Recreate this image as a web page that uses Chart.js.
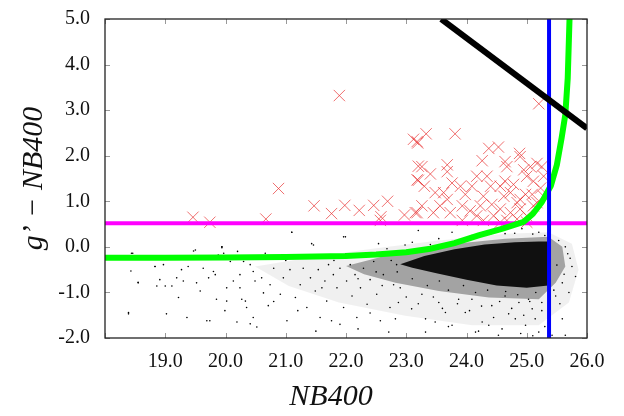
<!DOCTYPE html>
<html lang="en">
<head>
<meta charset="UTF-8">
<title>g' - NB400 vs NB400</title>
<script src="https://cdn.jsdelivr.net/npm/chart.js@4"></script>
<style>
  html, body { margin: 0; padding: 0; background: #fff; }
  #wrap { width: 624px; height: 416px; }
</style>
</head>
<body>
<div id="wrap"><canvas id="cmd"></canvas></div>
<script>
// axis ranges
const xRange = [18, 26];
const yRange = [-2, 5];

// selection lines
const colorCut = 0.52;      // magenta
const magLimit = 25.37;     // blue
const blackLine = [[23.58, 5.0], [26.0, 2.6]];

// green error curve
const greenCurve = [[18,-0.24],[19,-0.24],[20,-0.235],[21,-0.225],[21.5,-0.21],[22,-0.2],[22.5,-0.17],
  [23,-0.12],[23.4,-0.04],[23.8,0.08],[24.2,0.25],[24.6,0.4],[24.95,0.55],[25.1,0.72],[25.25,0.98],
  [25.4,1.34],[25.5,1.8],[25.58,2.4],[25.64,2.9],[25.68,3.7],[25.71,5.0]];

// LAE candidates (red crosses)
const candidates = [[19.46,0.65],[19.74,0.54],[20.67,0.61],[20.88,1.28],[21.89,3.32],[21.47,0.90],
  [21.76,0.73],[21.98,0.91],[22.22,0.80],[22.46,0.91],[22.69,1.0],[22.58,0.66],[22.57,0.58],[22.97,0.70],
  [23.12,2.36],[23.18,2.31],[23.2,1.77],[23.18,1.47],[23.18,0.75],[23.33,2.48],[23.81,2.48],[23.19,2.28],
  [24.37,2.16],[24.53,2.19],[24.88,2.05],[24.89,1.98],[24.26,1.89],[24.64,1.87],[24.67,1.76],[23.26,1.76],
  [23.40,1.60],[23.68,1.80],[23.68,1.65],[23.2,1.46],[23.30,1.33],[23.48,1.19],[23.62,1.19],[23.68,1.04],
  [23.26,0.90],[23.15,0.75],[23.9,1.33],[23.98,1.15],[23.93,0.90],[23.93,0.58],[24.09,1.33],[24.17,1.55],
  [24.34,1.55],[24.40,1.33],[24.56,1.33],[24.64,1.44],[24.78,1.37],[24.95,1.69],[25.06,1.76],[25.17,1.83],
  [25.25,1.76],[25.28,1.55],[25.11,1.44],[25.0,1.55],[25.23,1.29],[25.28,1.11],[24.89,1.04],[24.84,0.97],
  [24.73,1.19],[24.62,1.11],[24.28,1.11],[24.23,0.90],[24.42,0.93],[24.56,0.83],[24.45,0.68],[24.17,0.68],
  [24.06,0.79],[24.73,0.75],[24.89,0.83],[25.0,0.68],[25.11,0.90],[25.17,0.97],[24.84,0.61],[24.67,0.58],
  [24.28,0.58],[23.73,0.75],[23.56,0.90],[23.45,0.75],[23.76,1.40],[24.98,1.15],[25.09,1.15],[24.56,0.54],
  [25.0,0.54],[25.2,3.14]];

// all other sources: density outlines of the crowded part...
const cloudOuter = [[20.49,-0.43],[21.32,-0.25],[22.43,-0.04],[23.54,0.14],[24.64,0.29],[25.36,0.32],
  [25.75,0.07],[25.86,-0.5],[25.7,-1.22],[25.2,-1.72],[24.09,-1.72],[22.98,-1.51],[21.88,-1.22],[21.05,-0.86],[20.49,-0.43]];
const cloudMid = [[22.0,-0.42],[22.5,-0.25],[22.98,-0.07],[23.81,0.07],[24.64,0.18],[25.36,0.22],[25.59,0.0],
  [25.64,-0.43],[25.48,-0.79],[25.2,-1.15],[24.37,-1.11],[23.54,-0.97],[22.82,-0.79],[22.3,-0.6],[22.0,-0.42]];
const cloudCore = [[22.9,-0.38],[23.3,-0.2],[23.8,-0.05],[24.3,0.05],[24.8,0.1],[25.2,0.12],[25.36,0.12],
  [25.36,-0.85],[25.0,-0.9],[24.5,-0.85],[24.0,-0.72],[23.5,-0.58],[23.1,-0.46],[22.9,-0.38]];

// ...and the scattered single sources
const sources = [[18.46,-0.14],[18.43,-0.53],[18.55,-0.78],[18.39,-1.47],[18.83,-0.43],[18.91,-0.72],
  [18.86,-0.86],[18.97,-0.39],[19.02,-1.47],[19.11,-0.86],[19.22,-1.11],[19.19,-0.68],[19.27,-0.50],
  [19.30,-0.75],[19.38,-0.43],[19.47,-0.09],[19.36,-1.55],[19.52,-0.79],[19.58,-0.97],[19.63,-0.47],
  [19.69,-1.62],[19.72,-0.68],[19.80,-0.54],[19.85,-1.15],[19.88,-0.18],[19.94,-0.02],[19.97,-0.14],
  [19.99,-1.40],[20.02,-0.90],[20.08,-0.32],[20.13,-0.75],[20.19,-1.65],[20.24,-0.61],[20.27,-1.15],
  [20.30,-0.32],[20.35,-1.33],[20.41,-1.69],[20.46,-0.54],[20.49,-0.75],[20.52,-1.76],
  [19.74,-1.62],[19.94,0.0],[19.83,-0.61],[20.02,-1.19],[20.24,-0.90],[20.33,-1.19],[20.41,-0.39],
  [20.46,-1.55],[20.60,-0.68],[20.63,-1.01],[20.71,-1.29],[20.74,-0.83],[20.80,-0.47],[20.91,-1.04],
  [20.96,-0.68],[21.02,-1.62],[21.07,-0.50],[21.10,0.32],[21.16,-1.11],[21.24,-0.83],[21.29,-0.47],
  [21.35,-1.33],[21.41,-0.68],[21.46,0.04],[21.49,-0.97],[21.54,-0.50],[21.57,-1.55],[21.65,-0.75],
  [21.68,-1.19],[21.71,-0.39],[21.76,-1.62],[21.79,-0.61],[21.85,-0.90],[21.90,-0.47],[21.96,0.22],
  [21.96,-1.33],[22.01,-0.75],[22.07,-0.39],[22.10,-1.08],[22.15,-0.61],[22.18,-1.55],[22.24,-0.90],
  [22.29,-0.47],[22.35,-1.26],[22.40,-0.72],[22.46,-0.32],[22.51,-1.04],[22.57,-1.62],[22.62,-0.61],
  [22.68,-0.04],[22.73,-1.33],[22.79,-0.83],[22.84,-0.39],
  [23.09,-1.36],[23.32,-1.58],[23.54,-1.22],[23.76,-1.72],[23.98,-1.44],[24.09,-1.15],[24.26,-1.65],
  [24.42,-1.29],[24.59,-1.80],[24.70,-1.47],[24.87,-1.22],[24.98,-1.72],[25.09,-1.36],[25.20,-1.87],
  [25.25,-1.22],[25.48,-1.08],[25.59,-1.58],[25.70,-1.00],[25.75,-0.43],[25.81,-0.65],[25.64,0.0],
  [25.72,-0.25],[25.53,0.14],[25.59,-0.79],[25.42,-1.94],[25.64,-1.94],[23.26,-1.04],[22.87,-1.22],
  [22.82,-1.58],[23.48,-1.65],[23.87,-1.15],[24.37,-1.72],[24.81,-1.58],[25.03,-1.15],[23.65,-1.44],
  [24.64,-1.08],[24.15,-1.87],[25.14,-1.58],[24.53,-1.94],[23.32,-1.87],[22.71,-1.87],
  [21.99,0.22],[22.54,0.07],[22.98,0.04],[23.54,0.18],[24.09,0.25],[24.64,0.29],[25.2,0.32],[23.2,0.36],
  [23.76,0.32],[24.92,0.40],[21.1,0.32],[21.43,0.07],[20.66,-0.14],[19.50,-0.07],[19.94,0.0],[18.44,-0.14],
  [18.55,-0.79],[18.39,-1.44],[19.0,-0.86],[18.83,-0.43],
  [22.9,-0.9],[23.0,-1.1],[23.1,-0.7],[23.2,-1.25],[23.35,-0.85],[23.45,-1.1],[23.55,-0.75],[23.6,-1.35],
  [23.7,-0.95],[23.85,-1.25],[23.95,-0.85],[24.05,-1.4],[24.15,-1.0],[24.25,-1.3],[24.35,-0.95],[24.45,-1.55],
  [24.55,-1.2],[24.65,-0.98],[24.75,-1.35],[24.85,-1.05],[24.95,-1.5],[25.05,-1.2],[25.15,-1.0],[25.25,-1.4],
  [25.3,-1.75],[25.45,-0.95],[25.5,-0.4],[25.55,-1.25],[25.62,-0.6],[25.68,-0.15],[22.3,-0.2],[22.5,-0.55],
  [22.6,-0.85],[22.75,-0.3],[22.85,-0.55],[22.2,-0.7],[22.0,-0.15],[21.8,-0.3],[21.6,-0.9],[21.3,-0.2],
  [21.0,-0.3],[20.8,-1.2],[20.55,-0.25],[20.2,-0.1],[23.1,0.1],[23.4,0.05],[24.0,0.2],[24.4,0.28],
  [24.8,0.3],[25.1,0.28],[25.3,0.25],[23.7,-1.75],[24.2,-1.85],[24.9,-1.9],[25.1,-1.95],[22.4,-1.45],
  [22.2,-1.8],[21.9,-1.7],[21.5,-1.85],[21.2,-1.4]];

const toXY = arr => arr.map(p => ({ x: p[0], y: p[1] }));
const serif = '"Liberation Serif", "Times New Roman", "DejaVu Serif", serif';

function cloud(pts, shade) {
  return {
    data: toXY(pts), showLine: true, fill: 'shape', borderWidth: 0,
    borderColor: 'rgba(0,0,0,0)', backgroundColor: 'rgba(0,0,0,' + shade + ')',
    pointRadius: 0, order: 10
  };
}
function straight(pts, color, width, order) {
  return {
    data: toXY(pts), showLine: true, borderColor: color, borderWidth: width,
    pointRadius: 0, fill: false, order: order
  };
}

// frame and inward tick marks like the original plot
const framePlugin = {
  id: 'frame',
  afterDatasetsDraw(chart) {
    const { ctx, chartArea: a, scales: { x, y } } = chart;
    ctx.save();
    ctx.strokeStyle = '#999';
    ctx.lineWidth = 1;
    ctx.beginPath();
    x.ticks.forEach(t => {
      const px = Math.round(x.getPixelForValue(t.value)) + 0.5;
      ctx.moveTo(px, a.bottom); ctx.lineTo(px, a.bottom - 5);
      ctx.moveTo(px, a.top); ctx.lineTo(px, a.top + 5);
    });
    y.ticks.forEach(t => {
      const py = Math.round(y.getPixelForValue(t.value)) + 0.5;
      ctx.moveTo(a.left, py); ctx.lineTo(a.left + 5, py);
      ctx.moveTo(a.right, py); ctx.lineTo(a.right - 5, py);
    });
    ctx.stroke();
    ctx.strokeStyle = '#222';
    ctx.lineWidth = 1.3;
    ctx.strokeRect(a.left, a.top, a.right - a.left, a.bottom - a.top);
    ctx.restore();
  }
};

new Chart(document.getElementById('cmd'), {
  type: 'scatter',
  data: {
    datasets: [
      cloud(cloudOuter, 0.06),
      cloud(cloudMid, 0.32),
      cloud(cloudCore, 0.9),
      { data: toXY(sources), pointRadius: 0.8, pointBackgroundColor: '#000', pointBorderWidth: 0, order: 9 },
      { data: toXY(candidates), pointStyle: 'crossRot', pointRadius: 8, pointBorderWidth: 1,
        pointBorderColor: 'rgba(232,50,50,0.7)', order: 8 },
      straight([[xRange[0], colorCut], [xRange[1], colorCut]], '#ff00ff', 4, 7),
      straight(greenCurve, '#00ff00', 6, 6),
      straight([[magLimit, yRange[0]], [magLimit, yRange[1]]], '#0000ff', 4, 5),
      straight(blackLine, '#000', 6, 4)
    ]
  },
  options: {
    responsive: true,
    maintainAspectRatio: false,
    animation: false,
    layout: { padding: { top: 13, right: 37, left: 0, bottom: 0 } },
    plugins: { legend: { display: false }, tooltip: { enabled: false } },
    scales: {
      x: {
        type: 'linear', min: xRange[0], max: xRange[1],
        afterFit: s => { s.height = 78; },
        grid: { display: false },
        border: { display: false },
        ticks: {
          stepSize: 1, padding: 4, color: '#111', font: { family: serif, size: 20 },
          callback: v => v === xRange[0] ? '' : v.toFixed(1)
        },
        title: { display: true, text: 'NB400\u00a0\u00a0\u00a0\u00a0', color: '#111', padding: { bottom: 1 },
                 font: { family: serif, size: 30, style: 'italic' } }
      },
      y: {
        type: 'linear', min: yRange[0], max: yRange[1],
        afterFit: s => { s.width = 105; },
        grid: { display: false },
        border: { display: false },
        ticks: {
          stepSize: 1, padding: 7, color: '#111', font: { family: serif, size: 20 },
          callback: v => v.toFixed(1)
        },
        title: { display: true, text: 'g\u2019 \u2212 NB400', color: '#111', padding: { top: 16 },
                 font: { family: serif, size: 30, style: 'italic' } }
      }
    }
  },
  plugins: [framePlugin]
});
</script>
</body>
</html>
